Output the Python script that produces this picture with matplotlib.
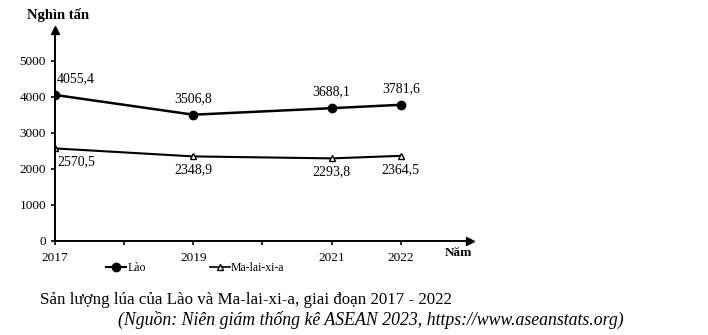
import matplotlib.pyplot as plt
from matplotlib.lines import Line2D

years = [2017, 2019, 2021, 2022]
lao = [4055.4, 3506.8, 3688.1, 3781.6]
malaysia = [2570.5, 2348.9, 2293.8, 2364.5]
yticks = [0, 1000, 2000, 3000, 4000, 5000]

plt.rcParams['font.family'] = ['Liberation Serif', 'DejaVu Serif']

fig = plt.figure(figsize=(7.08, 3.35), dpi=100)
ax = fig.add_axes([0.0777, 0.2806, 0.586, 0.63])
ax.set_xlim(2017, 2023)
ax.set_ylim(0, 5860)

for s in ['top', 'right']:
    ax.spines[s].set_visible(False)
ax.spines['left'].set_linewidth(1.4)
ax.spines['bottom'].set_linewidth(1.4)

# arrows on axes
ax.plot(1, 0, '>k', transform=ax.transAxes, clip_on=False, markersize=6)
ax.plot(0, 1, '^k', transform=ax.transAxes, clip_on=False, markersize=6)

ax.set_xticks(years)
ax.set_xticks([2018, 2020], minor=True)
ax.set_yticks(yticks)
ax.tick_params(axis='both', labelsize=9.5, length=3, direction='out', width=1.2)
ax.tick_params(axis='x', which='minor', length=3, width=1.2)
ax.tick_params(axis='x', pad=5)

ax.plot(years, lao, color='black', lw=1.8, marker='o', markersize=6, label='Lào')
ax.plot(years, malaysia, color='black', lw=1.5, marker='^', markersize=5,
        markerfacecolor='white', label='Ma-lai-xi-a')

def fmt(v):
    return f'{v:.1f}'.replace('.', ',')

for x, v in zip(years, lao):
    ha = 'left' if x == 2017 else 'center'
    dx = 0.03 if x == 2017 else 0
    ax.annotate(fmt(v), (x + dx, v), xytext=(0, 7), textcoords='offset points',
                ha=ha, va='bottom', fontsize=10)
for x, v in zip(years, malaysia):
    ha = 'left' if x == 2017 else 'center'
    dx = 0.03 if x == 2017 else 0
    ax.annotate(fmt(v), (x + dx, v), xytext=(0, -5), textcoords='offset points',
                ha=ha, va='top', fontsize=10)

fig.text(0.038, 0.955, 'Nghìn tấn', fontsize=10.5, fontweight='bold', va='center')
fig.text(0.628, 0.245, 'Năm', fontsize=9.5, fontweight='bold', va='center')

handles = [Line2D([], [], color='black', lw=1.5, marker='o', markersize=6),
           Line2D([], [], color='black', lw=1.2, marker='^', markersize=5,
                  markerfacecolor='white')]
fig.legend(handles, ['Lào', 'Ma-lai-xi-a'], loc='center left', bbox_to_anchor=(0.135, 0.2),
           ncol=2, frameon=False, fontsize=8.5, handlelength=1.7, handletextpad=0.1,
           columnspacing=5.4)

fig.text(0.056, 0.105, 'Sản lượng lúa của Lào và Ma-lai-xi-a, giai đoạn 2017 - 2022',
         fontsize=12.2, va='center')
fig.text(0.167, 0.045, '(Nguồn: Niên giám thống kê ASEAN 2023, https://www.aseanstats.org)',
         fontsize=12.8, style='italic', va='center')

fig.savefig('out.png', dpi=100)
